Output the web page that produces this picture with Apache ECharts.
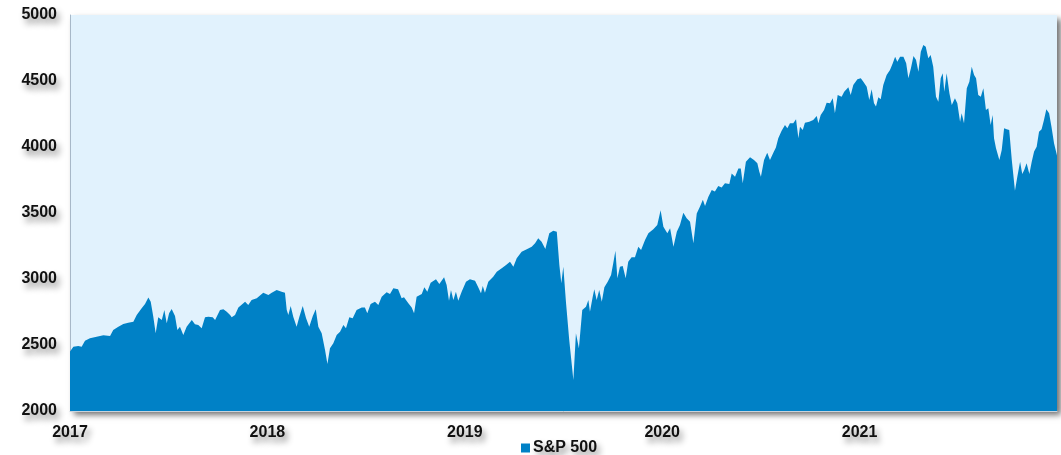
<!DOCTYPE html>
<html>
<head>
<meta charset="utf-8">
<script src="https://cdn.jsdelivr.net/npm/echarts@6/dist/echarts.min.js"></script>
<style>html,body{margin:0;padding:0;background:#fff}#c{width:1061px;height:455px}</style>
</head>
<body>
<div id="c"></div>
<script>
// Time in years after 1 Jan 2017 (decimal years)
const yearsSince2017 = [
0,0.017,0.042,0.059,0.076,0.101,0.135,0.169,0.203,0.219,0.245,0.270,0.295,0.321,0.338,0.363,0.380,0.397,0.409,0.422,
0.434,0.447,0.465,0.478,0.490,0.502,0.515,0.532,0.544,0.557,0.574,0.591,0.617,0.633,0.650,0.667,0.684,0.701,0.723,0.735,
0.760,0.777,0.794,0.811,0.819,0.836,0.853,0.887,0.903,0.920,0.946,0.979,1.005,1.022,1.047,1.072,1.089,1.098,1.106,1.118,
1.131,1.148,1.162,1.179,1.196,1.212,1.230,1.245,1.258,1.275,1.292,1.304,1.317,1.334,1.351,1.368,1.385,1.398,1.415,1.432,
1.452,1.478,1.494,1.506,1.523,1.545,1.562,1.579,1.604,1.621,1.638,1.662,1.680,1.692,1.714,1.731,1.743,1.756,1.782,1.795,
1.810,1.827,1.854,1.871,1.895,1.908,1.920,1.930,1.942,1.955,1.967,1.984,2.006,2.026,2.052,2.068,2.082,2.091,2.102,2.119,
2.144,2.162,2.187,2.209,2.229,2.246,2.263,2.288,2.314,2.339,2.356,2.372,2.389,2.408,2.428,2.448,2.466,2.479,2.489,2.499,
2.513,2.529,2.550,2.563,2.570,2.578,2.595,2.614,2.626,2.634,2.648,2.656,2.668,2.681,2.694,2.707,2.724,2.741,2.752,2.763,
2.773,2.786,2.800,2.815,2.828,2.845,2.862,2.879,2.893,2.913,2.930,2.955,2.975,2.992,3.006,3.026,3.040,3.057,3.074,3.090,
3.107,3.124,3.141,3.158,3.175,3.191,3.206,3.217,3.234,3.251,3.267,3.284,3.301,3.318,3.340,3.352,3.369,3.386,3.398,3.408,
3.424,3.445,3.465,3.482,3.492,3.500,3.516,3.532,3.546,3.563,3.576,3.588,3.605,3.622,3.634,3.647,3.664,3.678,3.690,3.698,
3.712,3.723,3.745,3.765,3.783,3.791,3.803,3.820,3.833,3.850,3.864,3.875,3.889,3.909,3.922,3.943,3.955,3.968,3.989,4.006,
4.019,4.036,4.049,4.061,4.073,4.083,4.095,4.107,4.120,4.137,4.154,4.168,4.180,4.191,4.205,4.222,4.236,4.247,4.260,4.273,
4.286,4.298,4.310,4.323,4.335,4.348,4.360,4.373,4.387,4.399,4.411,4.421,4.429,4.441,4.455,4.467,4.483,4.495,4.509,4.517,
4.529,4.543,4.556,4.568,4.580,4.590,4.601,4.614,4.627,4.640,4.652,4.664,4.674,4.681,4.691,4.698,4.708,4.720,4.732,4.745,
4.758,4.771,4.787,4.799,4.813,4.824,4.834,4.846,4.860,4.872,4.884,4.897,4.909,4.922,4.934,4.946,4.960,4.972,4.985,5.000
];
const spx500 = [
2450,2487,2492,2487,2533,2551,2563,2573,2568,2614,2639,2659,2669,2676,2727,2778,2811,2860,2828,2714,
2589,2710,2689,2765,2664,2740,2773,2720,2614,2639,2576,2639,2689,2657,2652,2626,2710,2714,2710,2689,
2765,2770,2752,2727,2710,2727,2785,2828,2803,2841,2854,2896,2879,2896,2917,2904,2896,2765,2727,2795,
2714,2639,2714,2795,2702,2639,2720,2770,2639,2589,2462,2356,2475,2513,2576,2601,2652,2626,2710,2702,
2765,2785,2785,2740,2811,2828,2803,2866,2900,2886,2929,2922,2854,2861,2816,2785,2740,2866,2886,2937,
2904,2972,2998,2962,3013,2955,2836,2917,2841,2904,2836,2904,2980,2998,2987,2937,2892,2947,2896,2980,
3017,3055,3081,3106,3131,3093,3157,3207,3225,3245,3270,3308,3283,3228,3346,3366,3358,3106,2967,3093,
2816,2538,2235,2589,2601,2475,2765,2790,2841,2752,2866,2922,2841,2917,2828,2937,2980,3030,3119,3214,
3005,3093,3098,3005,3131,3164,3164,3245,3220,3295,3346,3376,3409,3520,3396,3346,3384,3245,3358,3409,
3502,3460,3434,3270,3497,3548,3600,3553,3624,3674,3662,3704,3694,3725,3720,3800,3775,3838,3838,3725,
3889,3922,3902,3876,3813,3775,3902,3957,3902,3957,3997,4066,4123,4167,4142,4179,4179,4210,4066,4154,
4129,4184,4192,4205,4235,4179,4242,4280,4336,4331,4369,4255,4394,4381,4419,4452,4394,4470,4513,4520,
4495,4457,4356,4437,4331,4306,4376,4361,4470,4545,4583,4634,4684,4646,4684,4684,4634,4520,4596,4689,
4659,4571,4722,4773,4760,4672,4697,4608,4381,4343,4520,4558,4419,4558,4407,4318,4369,4331,4192,4255,
4179,4445,4495,4608,4545,4520,4394,4381,4445,4280,4293,4167,4242,4066,3990,4002,3902,3977,4142,4134,
4129,3902,3669,3775,3889,3795,3826,3876,3795,3889,3965,4002,4116,4134,4205,4286,4255,4154,4028,3935
];
const yearLabels = [2017, 2018, 2019, 2020, 2021];
const yTicks = [2000, 2500, 3000, 3500, 4000, 4500, 5000];
const seriesName = 'S&P 500';

const startYear = yearLabels[0];
const data = yearsSince2017.map((t, i) => [startYear + t, spx500[i]]);

const shadowText = {
  color: '#111',
  fontFamily: 'Liberation Sans, Arial, sans-serif',
  fontWeight: 'bold',
  fontSize: 16,
  textShadowColor: 'rgba(0,0,0,0.45)',
  textShadowBlur: 6,
  textShadowOffsetX: 3,
  textShadowOffsetY: 5
};

const chart = echarts.init(document.getElementById('c'));
chart.setOption({
  animation: false,
  backgroundColor: '#ffffff',
  grid: {
    left: 70, top: 15, right: 4, bottom: 44,
    show: true,
    backgroundColor: '#E1F2FD',
    borderWidth: 0,
    shadowColor: 'rgba(0,0,0,0.55)',
    shadowBlur: 6,
    shadowOffsetX: 4,
    shadowOffsetY: 4
  },
  legend: {
    data: [seriesName],
    left: 516,
    top: 435,
    icon: 'rect',
    itemWidth: 9,
    itemHeight: 9,
    itemGap: 4,
    textStyle: Object.assign({}, shadowText, {padding: [0, 0, 0, -2]})
  },
  xAxis: {
    type: 'value',
    min: startYear,
    max: yearLabels[yearLabels.length - 1] + 1,
    interval: 1,
    axisLine: {show: true, lineStyle: {color: '#c9d3dc', width: 1}},
    axisTick: {show: false},
    splitLine: {show: false},
    axisLabel: Object.assign({}, shadowText, {
      margin: 14,
      formatter: v => yearLabels.indexOf(v) >= 0 ? String(v) : ''
    })
  },
  yAxis: {
    type: 'value',
    min: yTicks[0],
    max: yTicks[yTicks.length - 1],
    interval: 500,
    axisLine: {show: true, lineStyle: {color: '#a7b8c8', width: 1}},
    axisTick: {show: false},
    splitLine: {show: false},
    axisLabel: Object.assign({}, shadowText, {
      margin: 13,
      formatter: v => String(v)
    })
  },
  series: [{
    name: seriesName,
    type: 'line',
    data: data,
    showSymbol: false,
    symbol: 'none',
    lineStyle: {width: 0},
    itemStyle: {color: '#0081C6'},
    areaStyle: {color: '#0081C6', opacity: 1}
  }]
});
</script>
</body>
</html>
